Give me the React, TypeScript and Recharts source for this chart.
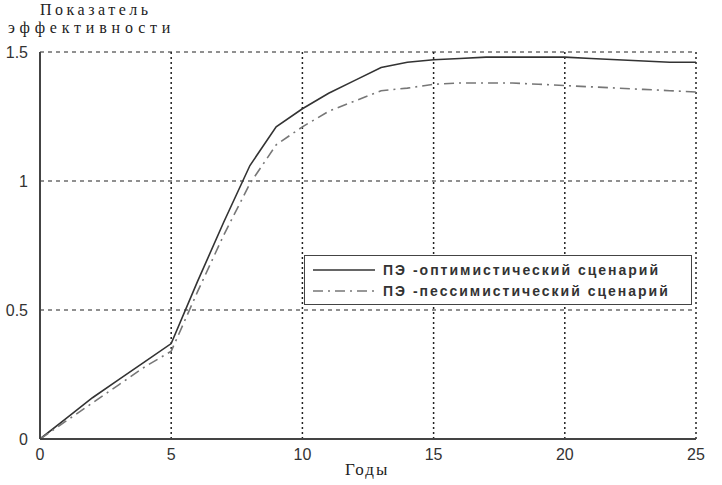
import React from 'react'
import {
  LineChart, Line, XAxis, YAxis, CartesianGrid,
} from 'recharts'

const YEARS = [0, 1, 2, 3, 4, 5, 6, 7, 8, 9, 10, 11, 12, 13, 14, 15, 16, 17, 18, 19, 20, 21, 22, 23, 24, 25]
const OPTIMISTIC = [0, 0.08, 0.16, 0.23, 0.30, 0.37, 0.61, 0.84, 1.06, 1.21, 1.28, 1.34, 1.39, 1.44, 1.46, 1.47, 1.475, 1.48, 1.48, 1.48, 1.48, 1.475, 1.47, 1.465, 1.46, 1.46]
const PESSIMISTIC = [0, 0.07, 0.14, 0.21, 0.28, 0.34, 0.57, 0.79, 0.99, 1.14, 1.21, 1.27, 1.31, 1.35, 1.36, 1.375, 1.38, 1.38, 1.38, 1.375, 1.37, 1.365, 1.36, 1.355, 1.35, 1.345]
const X_TICKS = [0, 5, 10, 15, 20, 25]
const Y_TICKS = [0, 0.5, 1, 1.5]
const SERIES_NAMES = ['ПЭ -оптимистический сценарий', 'ПЭ -пессимистический сценарий']

const data = YEARS.map((y, i) => ({ year: y, opt: OPTIMISTIC[i], pess: PESSIMISTIC[i] }))

const tickStyle = { fontSize: 16, fill: '#333', fontFamily: 'Liberation Sans, Arial, sans-serif' }
const serif = 'Liberation Serif, DejaVu Serif, serif'

function LegendBox() {
  return (
    <div style={{
      position: 'absolute', left: 304, top: 255,
      width: 388, height: 50, border: '1.5px solid #444', background: '#fff',
      fontFamily: 'Liberation Sans, Arial, sans-serif', fontSize: 14, fontWeight: 'bold',
      letterSpacing: 2, color: '#333',
      boxSizing: 'border-box', padding: '3px 0 0 8px',
    }}>
      {SERIES_NAMES.map((name, i) => (
        <div key={name} style={{ display: 'flex', alignItems: 'center', height: 21 }}>
          <svg width={62} height={6} style={{ marginRight: 8 }}>
            <line x1={0} y1={3} x2={62} y2={3}
              stroke={i === 0 ? '#333' : '#777'} strokeWidth={1.5}
              strokeDasharray={i === 0 ? undefined : '10 5 2 5'} />
          </svg>
          <span>{name}</span>
        </div>
      ))}
    </div>
  )
}

export default function App() {
  return (
    <div style={{ position: 'absolute', left: 0, top: 0, width: 722, height: 485, background: '#fff' }}>
      <LineChart width={722} height={485} data={data} margin={{ top: 52, right: 26, left: 0, bottom: 0 }}>
        <CartesianGrid horizontal={true} vertical={false} stroke="#222" strokeDasharray="4 4" strokeWidth={1.2} />
        <CartesianGrid horizontal={false} vertical={true} stroke="#222" strokeDasharray="2 3" strokeWidth={1.5} />
        <XAxis dataKey="year" type="number" domain={[0, 25]} ticks={X_TICKS}
          tick={tickStyle} tickLine={false} axisLine={{ stroke: '#444', strokeWidth: 2 }}
          height={46} tickMargin={4} />
        <XAxis xAxisId="top" orientation="top" dataKey="year" type="number" domain={[0, 25]}
          ticks={X_TICKS} tick={false} tickLine={false} axisLine={{ stroke: '#444', strokeWidth: 2 }} height={0} />
        <YAxis type="number" domain={[0, 1.5]} ticks={Y_TICKS} tick={tickStyle}
          tickLine={false} axisLine={{ stroke: '#444', strokeWidth: 2 }} width={40} tickMargin={6} />
        <YAxis yAxisId="right" orientation="right" domain={[0, 1.5]} tick={false}
          tickLine={false} axisLine={{ stroke: '#444', strokeWidth: 2 }} width={0} />
        <Line type="linear" dataKey="opt" name={SERIES_NAMES[0]} stroke="#333" strokeWidth={1.6}
          dot={false} isAnimationActive={false} />
        <Line type="linear" dataKey="pess" name={SERIES_NAMES[1]} stroke="#777" strokeWidth={1.6}
          strokeDasharray="10 5 2 5" dot={false} isAnimationActive={false} />
      </LineChart>
      <LegendBox />
      <div style={{ position: 'absolute', left: 40, top: 1, fontFamily: serif, fontSize: 16, letterSpacing: 3.5, color: '#222' }}>
        Показатель
      </div>
      <div style={{ position: 'absolute', left: 8, top: 19, fontFamily: serif, fontSize: 16, letterSpacing: 4.8, color: '#222' }}>
        эффективности
      </div>
      <div style={{ position: 'absolute', left: 345, top: 460, fontFamily: serif, fontSize: 17, letterSpacing: 2, color: '#222' }}>
        Годы
      </div>
    </div>
  )
}
